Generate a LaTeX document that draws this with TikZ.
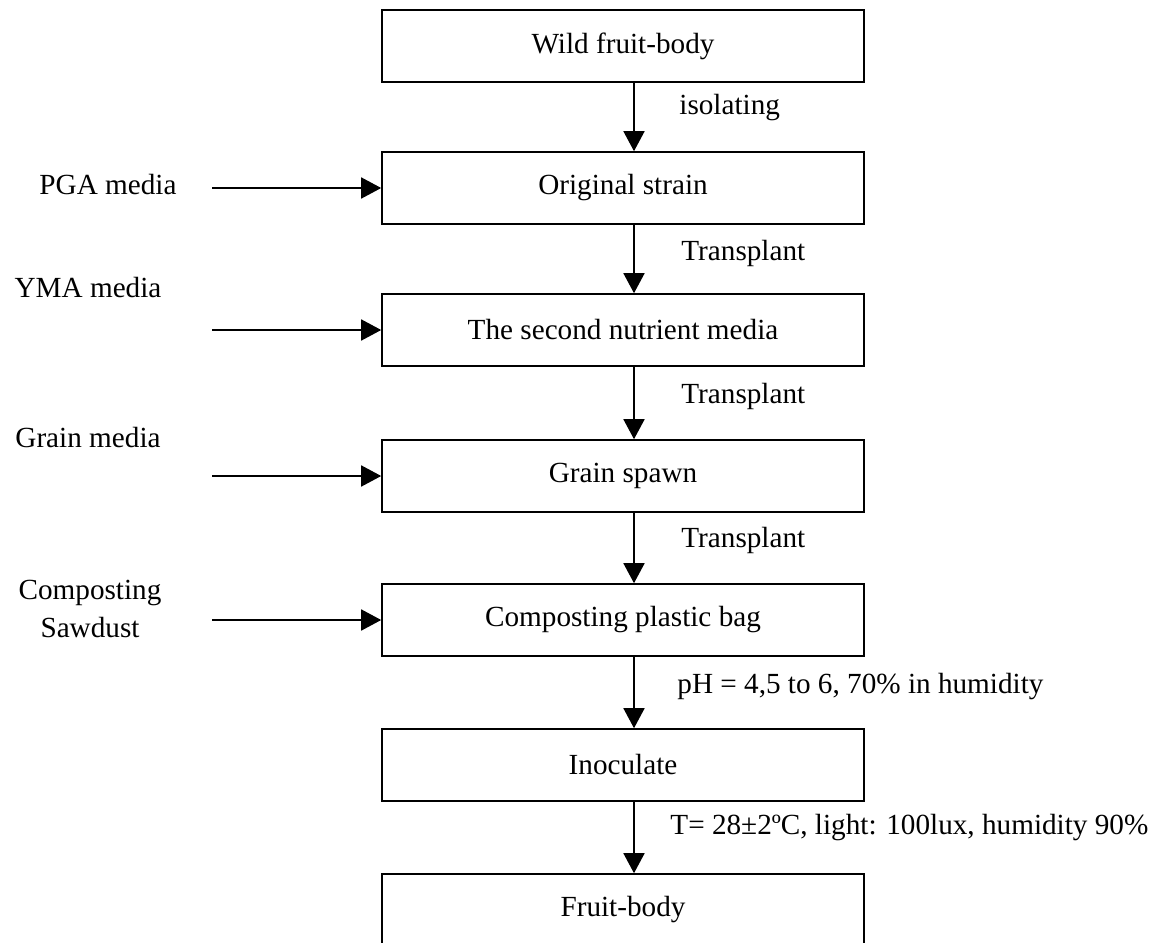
\documentclass[tikz,border=0pt]{standalone}
\usepackage{fontspec}
\setmainfont{Liberation Serif}
\usetikzlibrary{arrows.meta}
\begin{document}
\begin{tikzpicture}[x=0.5pt, y=-0.5pt,
    font=\fontsize{14.6}{19}\selectfont,
    stufe/.style={draw, line width=0.8pt, minimum width=241pt, minimum height=36pt, inner sep=0pt},
    pfeil/.style={line width=0.8pt, -{Triangle[length=10pt, width=10.5pt]}},
    beschr/.style={anchor=west, inner sep=0pt}]
    \useasboundingbox (0,0) rectangle (1156,942);

    % Stufen
    \node [stufe] (wild)   at (623, 46)  {Wild fruit-body};
    \node [stufe] (orig)   at (623, 188) {Original strain};
    \node [stufe] (second) at (623, 330) {The second nutrient media};
    \node [stufe] (spawn)  at (623, 476) {Grain spawn};
    \node [stufe] (bag)    at (623, 620) {Composting plastic bag};
    \node [stufe] (inoc)   at (623, 765) {Inoculate};
    \node [stufe] (fruit)  at (623, 910) {Fruit-body};

    % senkrechte Pfeile
    \coordinate (achse) at (634, 0);
    \draw [pfeil] (wild.south -| achse)   -- (orig.north -| achse);
    \draw [pfeil] (orig.south -| achse)   -- (second.north -| achse);
    \draw [pfeil] (second.south -| achse) -- (spawn.north -| achse);
    \draw [pfeil] (spawn.south -| achse)  -- (bag.north -| achse);
    \draw [pfeil] (bag.south -| achse)    -- (inoc.north -| achse);
    \draw [pfeil] (inoc.south -| achse)   -- (fruit.north -| achse);

    % Beschriftung der Pfeile
    \node [beschr] (iso)   at (679, 108) {isolating};
    \node [beschr] (trans1) at (681, 253) {Transplant};
    \node [beschr] (trans2) at (681, 396) {Transplant};
    \node [beschr] (trans3) at (681, 540) {Transplant};
    \node [beschr] (ph)    at (677, 687) {pH = 4,5 to 6, 70\% in humidity};
    \node [beschr] (temp)  at (670, 828) {T= 28±2ºC, light: 100lux, humidity 90\%};

    % Medien links
    \node (pga)   at (108, 185) {PGA media};
    \node (yma)   at (88, 288)  {YMA media};
    \node (grain) at (88, 438)  {Grain media};
    \node [align=center] (saw) at (90, 609) {Composting\\Sawdust};

    \coordinate (pga-s)   at (212, 188);
    \coordinate (yma-s)   at (212, 330);
    \coordinate (grain-s) at (212, 476);
    \coordinate (saw-s)   at (212, 620);
    \draw [pfeil] (pga-s)   -- (orig.west);
    \draw [pfeil] (yma-s)   -- (second.west);
    \draw [pfeil] (grain-s) -- (spawn.west);
    \draw [pfeil] (saw-s)   -- (bag.west);
\end{tikzpicture}
\end{document}
